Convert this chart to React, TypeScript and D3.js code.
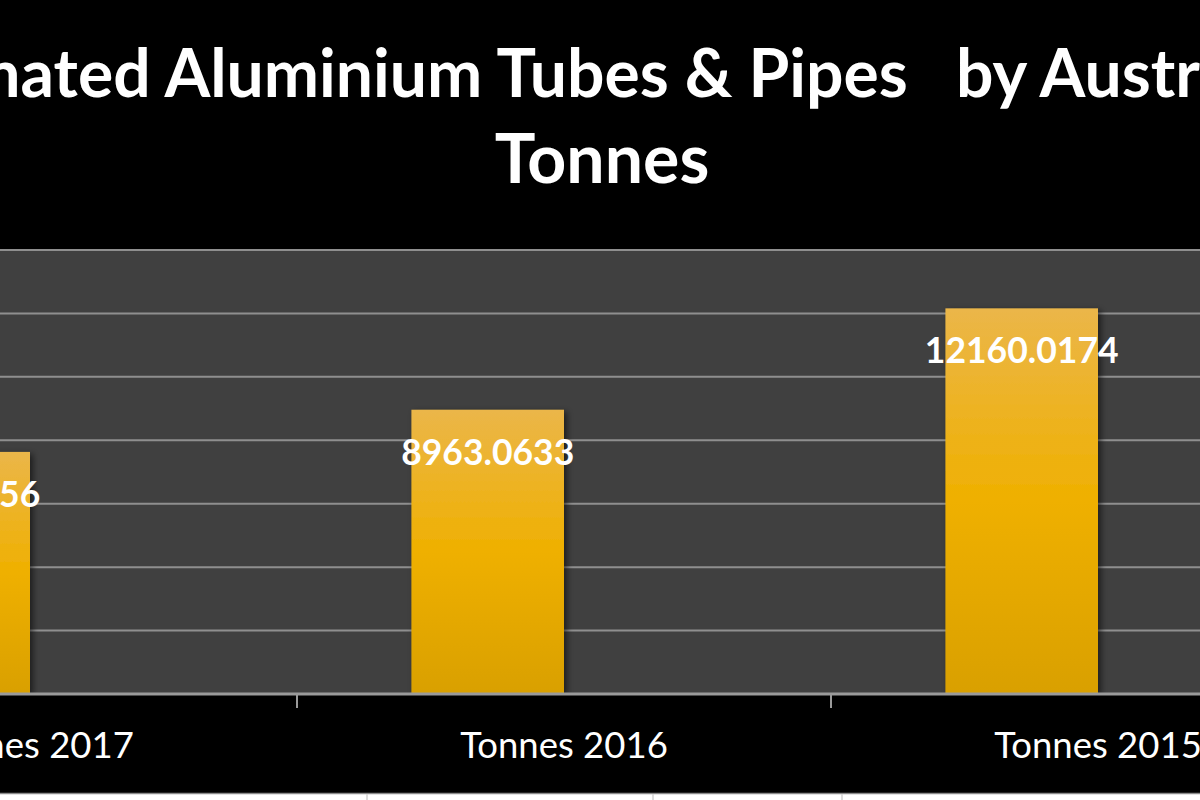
import * as d3 from "d3";

// Chart values
const categories = ["Tonnes 2017", "Tonnes 2016", "Tonnes 2015"];
const seriesNames = ["Tonnes", "(empty)"];
const tonnesValues = [7632.1456, 8963.0633, 12160.0174];
const emptySeriesValues: (number | null)[] = [null, null, null];
const yTicks = [0, 2000, 4000, 6000, 8000, 10000, 12000, 14000];
const titleLines = ["Estimated Aluminium Tubes & Pipes   by Australia", "Tonnes"];

const WIDTH = 1200;
const HEIGHT = 800;
// plot area in page coordinates (the chart is wider than the page and is cropped)
const plot = { left: -237, right: 1365, top: 250, bottom: 694 };
const FONT = "Lato, 'Open Sans', 'DejaVu Sans', sans-serif";

export default function App() {
  const x = d3
    .scaleBand()
    .domain(categories)
    .range([plot.left, plot.right])
    .paddingInner(0)
    .paddingOuter(0);

  // two series per category (the second is empty), Excel gap width 150%
  const xSeries = d3
    .scaleBand()
    .domain(seriesNames)
    .range([0, x.bandwidth()])
    .paddingInner(0)
    .paddingOuter(0.75);

  const y = d3
    .scaleLinear()
    .domain([0, d3.max(yTicks) ?? 14000])
    .range([plot.bottom, plot.top]);

  const series = [tonnesValues, emptySeriesValues];
  const bars = series
    .flatMap((values, si) =>
      values.map((v, ci) => ({ category: categories[ci], series: seriesNames[si], value: v })),
    )
    .filter((d) => d.value !== null) as { category: string; series: string; value: number }[];

  const tickEdges = categories.map((c) => x(c) ?? 0).concat([plot.right]);

  return (
    <div style={{ position: "fixed", left: 0, top: 0, width: WIDTH, height: HEIGHT, overflow: "hidden", background: "#000" }}>
      <svg width={WIDTH} height={HEIGHT} style={{ display: "block" }}>
        <defs>
          <linearGradient id="barFill" x1="0" y1="0" x2="0" y2="1">
            <stop offset="0%" stopColor="#ebb649" />
            <stop offset="50%" stopColor="#efb000" />
            <stop offset="100%" stopColor="#d9a000" />
          </linearGradient>
          <filter id="barShadow" x="-20%" y="-20%" width="150%" height="150%">
            <feDropShadow dx="3" dy="2" stdDeviation="3" floodColor="#000" floodOpacity="0.55" />
          </filter>
        </defs>

        <rect x={0} y={0} width={WIDTH} height={HEIGHT} fill="#000" />

        {/* title */}
        <text
          x={578}
          y={97}
          textAnchor="middle"
          fill="#fff"
          fontFamily={FONT}
          fontWeight={700}
          fontSize={66}
          style={{ whiteSpace: "pre" }}
        >
          {titleLines[0]}
        </text>
        <text
          x={602}
          y={183}
          textAnchor="middle"
          fill="#fff"
          fontFamily={FONT}
          fontWeight={700}
          fontSize={68}
        >
          {titleLines[1]}
        </text>

        {/* plot area */}
        <rect
          x={plot.left}
          y={plot.top}
          width={plot.right - plot.left}
          height={plot.bottom - plot.top}
          fill="#404040"
        />
        {yTicks.map((t) => (
          <line
            key={t}
            x1={plot.left}
            x2={plot.right}
            y1={y(t)}
            y2={y(t)}
            stroke="#8f8f8f"
            strokeWidth={2}
          />
        ))}

        {/* bars */}
        {bars.map((d) => (
          <rect
            key={d.category + d.series}
            x={(x(d.category) ?? 0) + (xSeries(d.series) ?? 0)}
            y={y(d.value)}
            width={xSeries.bandwidth()}
            height={y(0) - y(d.value)}
            fill="url(#barFill)"
            filter="url(#barShadow)"
          />
        ))}

        {/* data labels, inside end */}
        {bars.map((d) => (
          <text
            key={"l" + d.category + d.series}
            x={(x(d.category) ?? 0) + (xSeries(d.series) ?? 0) + xSeries.bandwidth() / 2}
            y={y(d.value) + 55}
            textAnchor="middle"
            fill="#fff"
            fontFamily={FONT}
            fontWeight={700}
            fontSize={35.5}
          >
            {d.value.toFixed(4)}
          </text>
        ))}

        {/* category axis */}
        <line x1={plot.left} x2={plot.right} y1={plot.bottom} y2={plot.bottom} stroke="#9a9a9a" strokeWidth={3} />
        {tickEdges.map((ex, i) => (
          <line key={i} x1={ex} x2={ex} y1={plot.bottom} y2={plot.bottom + 14} stroke="#9a9a9a" strokeWidth={2} />
        ))}
        {categories.map((c) => (
          <text
            key={c}
            x={(x(c) ?? 0) + x.bandwidth() / 2}
            y={758}
            textAnchor="middle"
            fill="#fff"
            fontFamily={FONT}
            fontSize={36.5}
          >
            {c}
          </text>
        ))}

        {/* spreadsheet edge below the chart */}
        <rect x={0} y={793} width={WIDTH} height={7} fill="#fff" />
        <line x1={0} x2={WIDTH} y1={793.5} y2={793.5} stroke="#8a8a8a" strokeWidth={1.5} />
        {[367, 653, 842].map((cx) => (
          <line key={cx} x1={cx} x2={cx} y1={794} y2={800} stroke="#d0d0d0" strokeWidth={1.5} />
        ))}
      </svg>
    </div>
  );
}
